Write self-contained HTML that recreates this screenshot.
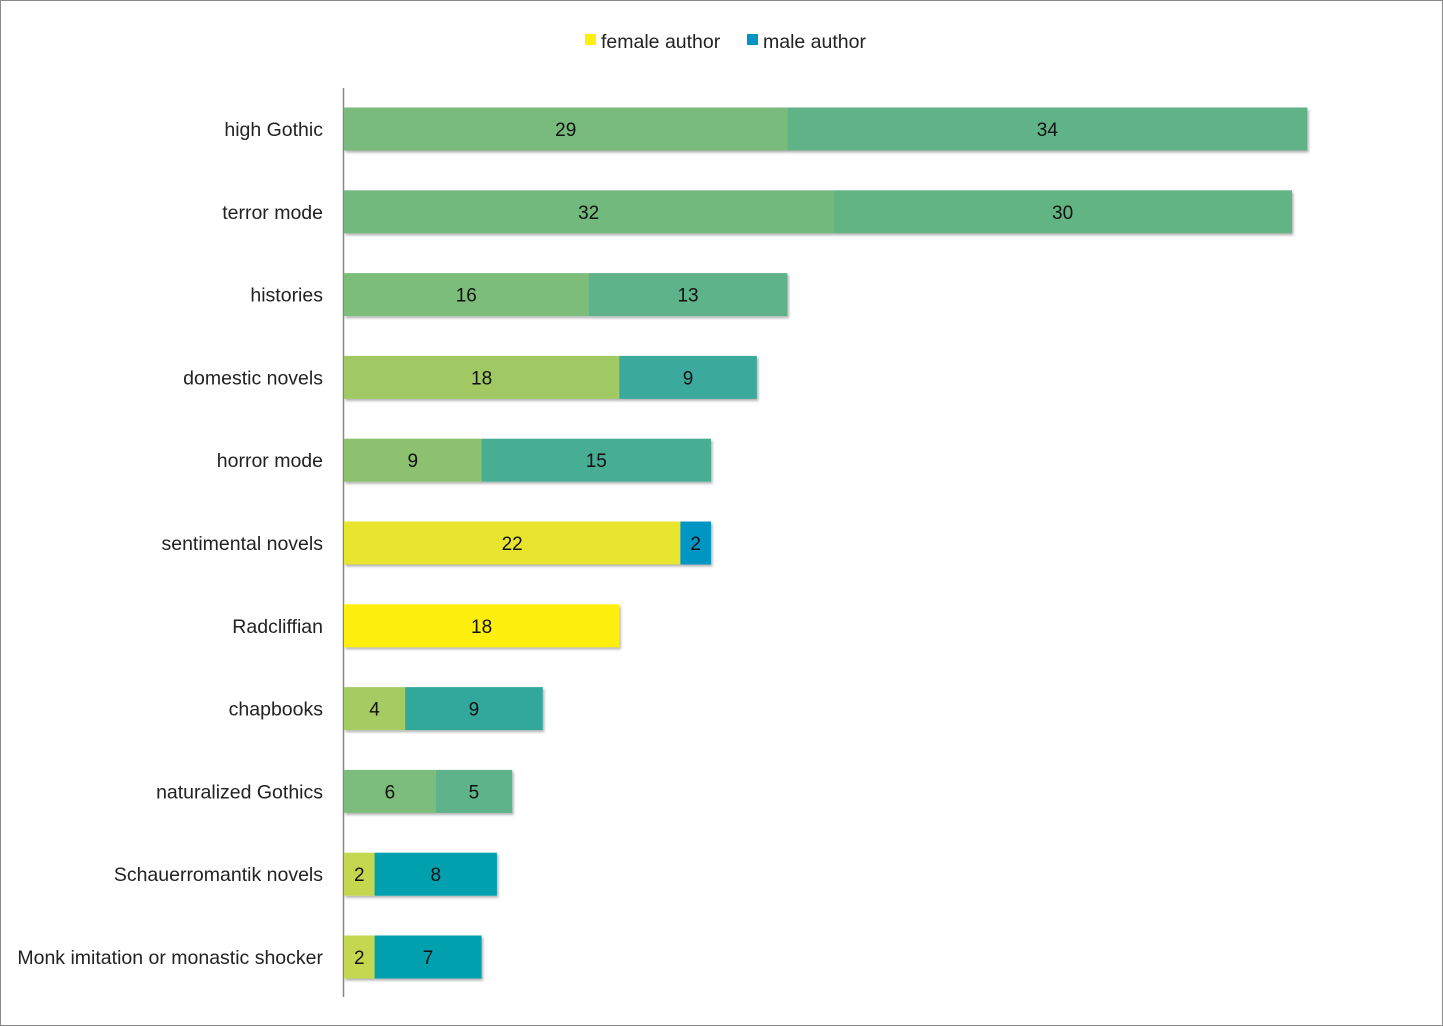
<!DOCTYPE html>
<html><head><meta charset="utf-8"><style>
body{margin:0;background:#fff;}
#frame{position:absolute;left:0;top:0;width:1441px;height:1024px;border:1px solid #8a8a8a;}
svg text{font-family:"Liberation Sans","DejaVu Sans",sans-serif;}
</style></head><body>
<div id="frame"></div>
<svg id="chart" width="1443" height="1026" style="position:absolute;left:0;top:0">
<defs><filter id="sh" x="-5%" y="-20%" width="110%" height="150%"><feDropShadow dx="1.5" dy="2" stdDeviation="1.2" flood-color="#000" flood-opacity="0.3"/></filter></defs>
<g>
<rect x="585" y="34" width="11" height="11" fill="#FFEF0A"/>
<text x="601" y="48" font-size="19.5" fill="#222">female author</text>
<rect x="747" y="34" width="11" height="11" fill="#0096C4"/>
<text x="763" y="48" font-size="19.5" fill="#222">male author</text>
</g>
<line x1="343.5" y1="88" x2="343.5" y2="997" stroke="#888" stroke-width="1.5"/>
<g id="bars"></g>
</svg>
<script>
const categories=["high Gothic","terror mode","histories","domestic novels","horror mode","sentimental novels","Radcliffian","chapbooks","naturalized Gothics","Schauerromantik novels","Monk imitation or monastic shocker"];
const femaleValues=[29,32,16,18,9,22,18,4,6,2,2];
const maleValues=[34,30,13,9,15,2,0,9,5,8,7];
const femaleColors=["#79BB7B","#72B97E","#7BBD7C","#A0C864","#8CC16F","#E8E52E","#FFEF0A","#A6CB64","#7CBC7C","#C4D84F","#C4D84F"];
const maleColors=["#5FB387","#63B483","#5EB38A","#3AAA9C","#46AD93","#0096C4","#0096C4","#33A79C","#5FB38A","#00A0AE","#00A0AE"];
const NS="http://www.w3.org/2000/svg";
const x0=344,pxPer=15.29,yTop=129,step=82.8,bh=43;
const xs=v=>x0+v*pxPer;
const yc=i=>yTop+i*step;
const g=document.getElementById('bars');
function mk(t,a){const e=document.createElementNS(NS,t);for(const k in a)e.setAttribute(k,a[k]);return e;}
categories.forEach((c,i)=>{
  const y=yc(i);
  const lab=mk('text',{x:323,y:y+7,'font-size':19.5,'text-anchor':'end',fill:'#222'});
  lab.textContent=c;
  
  
  g.appendChild(lab);
  const segs=[[0,femaleValues[i],femaleColors[i],'female'],[femaleValues[i],maleValues[i],maleColors[i],'male']];
  const grp=mk('g',{filter:'url(#sh)'});
  
  
  g.appendChild(grp);
  segs.forEach(([s,v,col,k])=>{
    if(!v)return;
    const r=mk('rect',{x:xs(s),y:y-bh/2,width:xs(s+v)-xs(s),height:bh,fill:col});
    
    
    grp.appendChild(r);
  });
  segs.forEach(([s,v,col,k])=>{
    if(!v)return;
    const t=mk('text',{x:(xs(s)+xs(s+v))/2,y:y+7,'font-size':19,'text-anchor':'middle',fill:'#111'});
    t.textContent=v;
    
    
    g.appendChild(t);
  });
});
</script>
</body></html>
